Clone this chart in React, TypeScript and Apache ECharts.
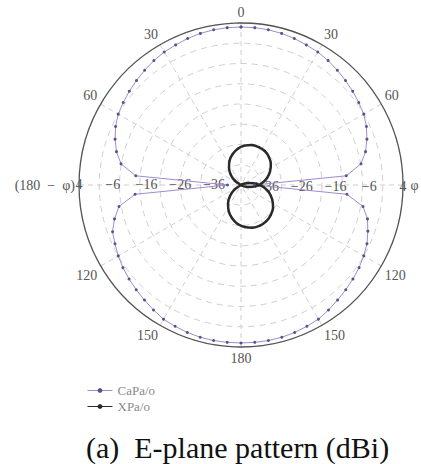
import React, { useEffect, useRef } from "react";
import * as echarts from "echarts";

const angleLabels: Record<number, string> = {
  0: "0", 30: "30", 60: "60", 90: " φ", 120: "120", 150: "150", 180: "180",
  210: "150", 240: "120", 270: "(180  −  φ)", 300: "60", 330: "30",
};

const caAngles = [
  0, 5, 10, 15, 20, 25, 30, 35, 40, 45, 50, 55, 60, 65, 70, 75, 80, 85, 90,
  95, 100, 105, 110, 115, 120, 125, 130, 135, 140, 145, 150, 155, 160, 165, 170, 175, 180,
  185, 190, 195, 200, 205, 210, 215, 220, 225, 230, 235, 240, 245, 250, 255, 260, 265, 270,
  275, 280, 285, 290, 295, 300, 305, 310, 315, 320, 325, 330, 335, 340, 345, 350, 355, 360,
];
const caValues = [
  2.8, 2.8, 2.7, 2.5, 2.2, 1.8, 1.5, 1.0, 0.4, -0.2, -0.8, -1.4, -2.0, -3.0, -4.3, -5.8, -7.9, -12.7, -40,
  -12.5, -7.3, -5.2, -4.0, -2.8, -2.0, -1.3, -0.7, -0.1, 0.5, 1.2, 1.9, 2.2, 2.5, 2.7, 2.8, 2.8, 2.8,
  2.8, 2.8, 2.7, 2.5, 2.2, 1.9, 1.2, 0.5, -0.1, -0.7, -1.3, -2.0, -2.8, -3.5, -5.2, -7.3, -12.5, -40,
  -12.7, -7.9, -5.8, -4.3, -3.0, -2.0, -1.4, -0.8, -0.2, 0.4, 1.0, 1.5, 1.8, 2.2, 2.5, 2.7, 2.8, 2.8,
];

// XPa/o traced as a figure eight: upper lobe (295° → 115°), then lower lobe (65° → 245°)
const xAngles = [
  295, 305, 315, 325, 335, 345, 355, 5, 15, 25, 35, 45, 55, 65, 75, 85, 95, 105, 115,
  65, 75, 85, 95, 105, 115, 125, 135, 145, 155, 165, 175, 185, 195, 205, 215, 225, 235, 245,
];
const xValues = [
  -44, -41.8, -39.7, -37.8, -36.0, -34.5, -33.2, -32.3, -31.7, -31.6, -31.7, -32.3, -33.2, -34.5, -36.0, -37.8, -39.7, -41.8, -44,
  -44, -41.7, -39.4, -37.3, -35.4, -33.8, -32.4, -31.5, -30.9, -30.7, -30.9, -31.5, -32.4, -33.8, -35.4, -37.3, -39.4, -41.7, -44,
];

const radialTicks = [4, -6, -16, -26, -36];

const serif = "'Liberation Serif', 'DejaVu Serif', serif";
const CENTER = [241, 185];
const R = 162;

export default function App() {
  const ref = useRef<HTMLDivElement>(null);
  useEffect(() => {
    if (!ref.current) return;
    const chart = echarts.init(ref.current, undefined, { renderer: "svg" });
    const fmtR = (v: number) =>
      radialTicks.includes(v) ? (v < 0 ? "−" + -v : String(v)) : "";
    const hiddenAngle = (idx: number, start: number) => ({
      polarIndex: idx, type: "value", min: 0, max: 360, startAngle: start,
      axisLine: { show: false }, axisTick: { show: false }, axisLabel: { show: false },
      splitLine: { show: false },
    });
    const labelRadius = (idx: number) => ({
      polarIndex: idx, type: "value", min: -36, max: 4, interval: 10,
      axisLine: { show: false }, axisTick: { show: false }, splitLine: { show: false },
      axisLabel: { formatter: fmtR, fontFamily: serif, fontSize: 14, color: "#555", margin: -8 },
    });
    chart.setOption({
      animation: false,
      title: {
        text: "(a)  E-plane pattern (dBi)", left: 81, top: 425,
        textStyle: { fontFamily: serif, fontSize: 30, lineHeight: 34, fontWeight: "normal", color: "#111" },
      },
      legend: {
        orient: "vertical", left: 82, top: 379, itemGap: 3, itemWidth: 25, itemHeight: 6,
        textStyle: { fontFamily: serif, fontSize: 13, color: "#888" },
        lineStyle: { width: 1 },
        data: ["CaPa/o", "XPa/o"],
      },
      polar: [
        { center: CENTER, radius: R },
        { center: CENTER, radius: [27, R] },
        { center: CENTER, radius: [27, R] },
      ],
      angleAxis: [
        {
          polarIndex: 0, type: "value", min: 0, max: 360, interval: 30, startAngle: 90, clockwise: true,
          axisLine: { lineStyle: { color: "#555", width: 1.3 } },
          axisTick: { show: false },
          axisLabel: {
            formatter: (v: number) => angleLabels[v] ?? "",
            fontFamily: serif, fontSize: 14, color: "#555", margin: 4,
          },
          splitLine: { lineStyle: { type: [5, 4], color: "#cfcfcf", width: 1 } },
        },
        hiddenAngle(1, 0),
        hiddenAngle(2, 180),
      ],
      radiusAxis: [
        {
          polarIndex: 0, type: "value", min: -44, max: 4, interval: 6,
          axisLine: { show: false }, axisTick: { show: false }, axisLabel: { show: false },
          splitLine: { lineStyle: { type: [6, 5], color: "#cfcfcf", width: 1 } },
        },
        labelRadius(1),
        labelRadius(2),
      ],
      series: [
        {
          name: "CaPa/o", type: "line", coordinateSystem: "polar", polarIndex: 0,
          data: caAngles.map((a, i) => [caValues[i], a]),
          symbol: "circle", symbolSize: 3,
          lineStyle: { color: "#a08ccc", width: 1 },
          itemStyle: { color: "#5d4f8c" },
        },
        {
          name: "XPa/o", type: "line", coordinateSystem: "polar", polarIndex: 0,
          data: xAngles.map((a, i) => [xValues[i], a]),
          smooth: 0.3, symbol: "circle", symbolSize: 2,
          lineStyle: { color: "#2a2a2a", width: 2.5 },
          itemStyle: { color: "#2a2a2a" },
        },
      ],
    });
    return () => chart.dispose();
  }, []);
  return <div ref={ref} style={{ position: "absolute", left: 0, top: 0, width: 421, height: 464 }} />;
}
